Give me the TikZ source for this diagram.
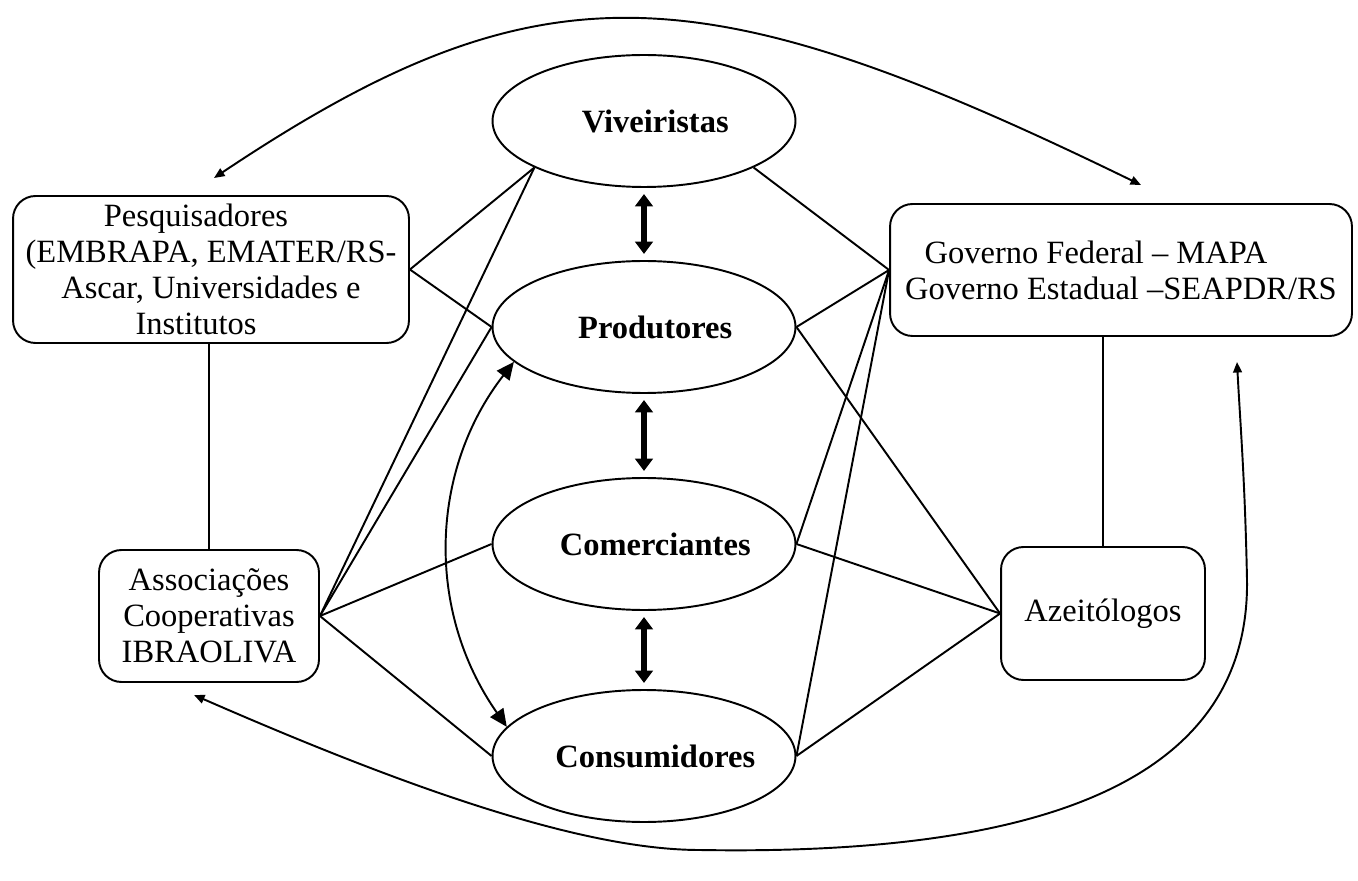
\documentclass[tikz,border=0pt]{standalone}
\usepackage{fontspec}
\setmainfont{Liberation Serif}
\usetikzlibrary{arrows.meta,shapes.geometric,positioning,calc}
\newcommand\diagfont{\fontsize{18.5pt}{20.5pt}\selectfont}
\newcommand\actortext[1]{\makebox[0pt]{\hspace*{0.45cm}#1}}
\tikzset{
    >=Stealth,
    actor/.style={
        ellipse,
        draw,
        line width=1.1pt,
        minimum width=6.06cm,
        minimum height=2.64cm,
        inner sep=0pt,
        font=\diagfont\bfseries
    },
    org/.style={
        rectangle,
        rounded corners=0.45cm,
        draw,
        line width=1.1pt,
        align=center,
        inner sep=0pt
    },
    link/.style={line width=1.1pt},
    flow/.style={
        line width=3.8pt,
        {Triangle[width=10.5pt,length=7pt,line width=0pt]}-{Triangle[width=10.5pt,length=7pt,line width=0pt]},
        shorten <=3.5pt,
        shorten >=3.5pt
    },
    swing/.style={
        line width=1.1pt,
        {Triangle[width=9pt,length=10pt]}-{Triangle[width=9pt,length=10pt]}
    },
    outer/.style={
        line width=1.1pt,
        {Triangle[width=5pt,length=6pt]}-{Triangle[width=5pt,length=6pt]}
    }
}

\begin{document}
\begin{tikzpicture}[x=0.02cm, y=-0.02cm, font=\diagfont]

\useasboundingbox (0,0) rectangle (1358,881);

\node[actor] (viv)  at (644,121) {\actortext{Viveiristas}};
\node[actor] (prod) at (644,327) {\actortext{Produtores}};
\node[actor] (com)  at (644,544) {\actortext{Comerciantes}};
\node[actor] (cons) at (644,756) {\actortext{Consumidores}};

\node[org, minimum width=7.92cm, minimum height=2.94cm] (pesq) at (211,269.5)
    {Pesquisadores\hspace*{0.6cm}\\
     (EMBRAPA, EMATER/RS-\\
     Ascar, Universidades e\hspace*{0.9cm}\\
     Institutos\hspace*{0.6cm}};
\node[org, minimum width=9.24cm, minimum height=2.64cm] (gov) at (1121,270)
    {Governo Federal – MAPA\hspace*{1cm}\\
     Governo Estadual –SEAPDR/RS};
\node[org, minimum width=4.4cm, minimum height=2.64cm] (assoc) at (209,616)
    {Associações\\ Cooperativas\\ IBRAOLIVA};
\node[org, minimum width=4.08cm, minimum height=2.66cm] (azeit) at (1103,613.5)
    {Azeitólogos};

\coordinate (ptip)  at (214,178);
\coordinate (gtip)  at (1141,185);
\coordinate (atip)  at (194,695);
\coordinate (gbtip) at (1237,362);

\path[link]
    (pesq.east) edge (viv.203)
    (pesq.east) edge (prod.west)
    (assoc.east) edge (viv.203)
    (assoc.east) edge (prod.west)
    (assoc.east) edge (com.west)
    (assoc.east) edge (cons.west)
    (viv.-23) edge (gov.west)
    (prod.east) edge (gov.west)
    (com.east) edge (gov.west)
    (cons.east) edge (gov.west)
    (prod.east) edge (azeit.west)
    (com.east) edge (azeit.west)
    (cons.east) edge (azeit.west)
    (assoc.north |- pesq.south) edge (assoc.north)
    (azeit.north) edge (azeit.north |- gov.south);

\draw[flow] (viv) -- (prod);
\draw[flow] (prod) -- (com);
\draw[flow] (com) -- (cons);

\draw[swing] (prod.195) .. controls (430,470) and (425,610) .. (cons.168);

\draw[outer] (ptip) .. controls (540,-40) and (700,-30) .. (gtip);
\draw[outer] (atip) .. controls (400,785) and (580,850) .. (700,850)
    .. controls (1000,855) and (1250,800) .. (1247,580)
    .. controls (1245,480) and (1240,420) .. (gbtip);

\end{tikzpicture}
\end{document}
